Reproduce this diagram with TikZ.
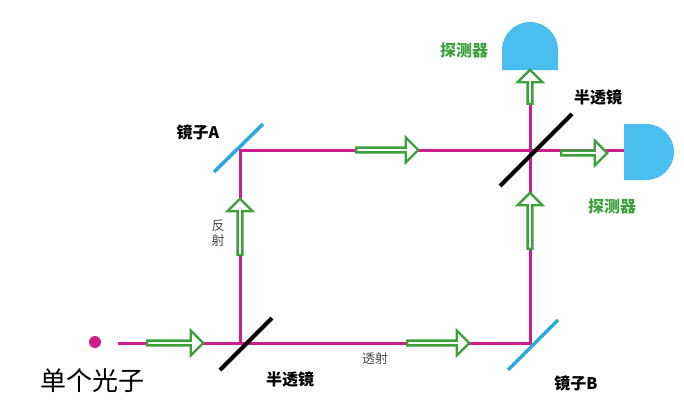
\documentclass[tikz,border=0pt]{standalone}
\usepackage{fontspec}
\setmainfont{Noto Sans CJK SC}
\usetikzlibrary{shapes.arrows}
\definecolor{beam}{RGB}{205,30,140}
\definecolor{mir}{RGB}{40,170,225}
\definecolor{det}{RGB}{75,190,240}
\definecolor{gr}{RGB}{60,160,60}
\tikzset{
 beamline/.style={beam,line width=3pt},
 harrow/.style={single arrow,draw=gr,fill=white,line width=2.4pt,minimum height=56pt,minimum width=25pt,single arrow head extend=5pt,inner sep=0pt},
 lbl/.style={font=\bfseries\fontsize{16}{16}\selectfont},
 glbl/.style={lbl,text=gr},
 thin/.style={font=\fontsize{13}{15}\selectfont,text=black!70}
}
\begin{document}
\begin{tikzpicture}[x=1pt,y=-1pt]
\useasboundingbox (0,0) rectangle (684,407);
\fill[white] (0,0) rectangle (684,407);
% beams
\coordinate (s) at (118,343);
\coordinate (bs1) at (240,343);
\coordinate (mB) at (530,343);
\coordinate (mA) at (240,150);
\coordinate (bs2) at (530,150);
\coordinate (d1) at (530,68);
\coordinate (d2) at (626,150);
\draw[beamline] (s) -- (bs1) -- (mB) -- (bs2) -- (d1);
\draw[beamline] (bs1) -- (mA) -- (bs2) -- (d2);
\fill[beam] (95,342) circle (6);
% mirrors
\draw[mir,line width=3.5pt] (214,172) -- (263,124);
\draw[mir,line width=3.5pt] (508,370) -- (558,320);
\draw[black,line width=4pt] (220,370) -- (272,318);
\draw[black,line width=4pt] (500,186) -- (572,114);
% detectors
\fill[det] (502,70) -- (502,50) arc (180:360:28) -- (558,70) -- cycle;
\fill[det] (624,124) -- (646,124) arc (-90:90:28) -- (624,180) -- cycle;
% arrows
\node[harrow] (a1) at (174,343) {};
\node[harrow,minimum height=62pt] (a2) at (437,343) {};
\node[harrow,rotate=90] (a3) at (240,228) {};
\node[harrow,minimum height=62pt] (a4) at (386,150) {};
\node[harrow,rotate=90] (a5) at (530,222) {};
\node[harrow,rotate=90,minimum height=34pt] (a6) at (530,88) {};
\node[harrow,minimum height=46pt] (a7) at (583,153) {};
% labels
\node[lbl] (l1) at (198,132) {镜子A};
\node[thin,align=center] (l2) at (218,233) {反\\射};
\node[lbl] (l3) at (290,379) {半透镜};
\node[thin] (l4) at (375,359) {透射};
\node[lbl] (l5) at (576,383) {镜子B};
\node[font=\fontsize{26}{26}\selectfont] (l6) at (92,381) {单个光子};
\node[lbl] (l7) at (598,97) {半透镜};
\node[glbl] (l8) at (464,50) {探测器};
\node[glbl] (l9) at (612,206) {探测器};
\end{tikzpicture}
\end{document}
